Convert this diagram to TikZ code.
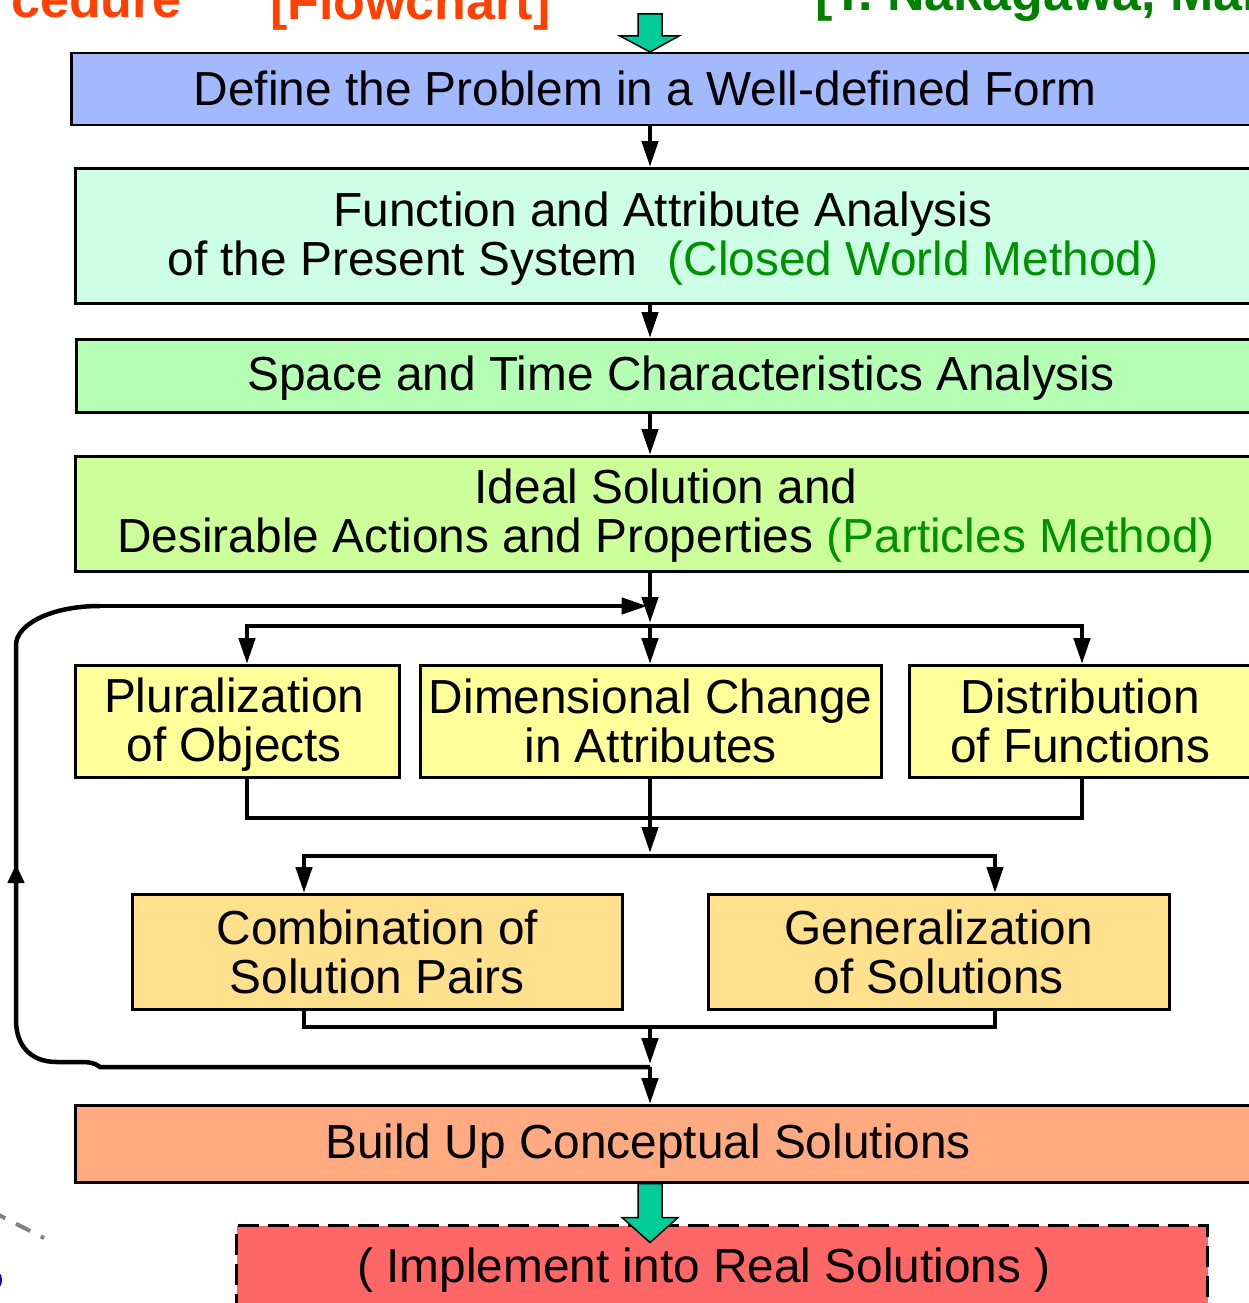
\documentclass[tikz,border=0pt]{standalone}
\usepackage{fontspec}
\setmainfont{Liberation Sans}
\usetikzlibrary{arrows.meta,calc}

\definecolor{probblue}{RGB}{163,185,255}
\definecolor{mintbox}{RGB}{204,255,230}
\definecolor{greenbox}{RGB}{180,255,180}
\definecolor{limebox}{RGB}{204,255,153}
\definecolor{yelbox}{RGB}{255,255,153}
\definecolor{ambbox}{RGB}{255,224,140}
\definecolor{salmonbox}{RGB}{255,170,128}
\definecolor{redbox}{RGB}{255,102,102}
\definecolor{bigarrow}{RGB}{0,204,153}
\definecolor{methodgreen}{RGB}{0,145,0}
\definecolor{titlered}{RGB}{255,64,0}
\definecolor{titlegreen}{RGB}{0,128,0}

\begin{document}
\begin{tikzpicture}[x=1pt,y=-1pt,
  box/.style={draw=black, line width=2.5pt, rectangle, inner sep=0pt, anchor=north west,
    font=\fontsize{47.8}{49}\selectfont, align=center},
  lbl/.style={font=\fontsize{47.8}{49}\selectfont, align=center, inner sep=0pt},
  title/.style={font=\fontsize{52}{52}\selectfont\bfseries, inner sep=0pt},
  conn/.style={line width=4.5pt},
  arr/.style={conn, -{Triangle[length=26pt,width=16pt]}},
  arrsmall/.style={conn, -{Triangle[length=19pt,width=16pt]}},
  bigarr/.style={fill=bigarrow, draw=black, line width=1.5pt, line join=miter},
]
\clip (0,0) rectangle (1249,1303);

% heading fragments
\node[title, anchor=base east, text=titlered] (tproc) at (182,18) {cedure};
\node[title, anchor=base west, text=titlered] (tflow) at (270,20) {[Flowchart]};
\node[title, anchor=base west, text=titlegreen] (tauth) at (815,11) {[T. Nakagawa, Mar};

% stray marks at lower left
\draw[gray, line width=4pt, dash pattern=on 16pt off 12pt] (-9,1211) -- (44,1238);
\fill[blue!75!black] (-3,1280) ellipse (5pt and 8pt);

% main boxes
\node[box, fill=probblue, minimum width=1200pt, minimum height=72pt] (define) at (70,52) {};
\node[box, fill=mintbox, minimum width=1200pt, minimum height=135pt] (funct) at (74,167) {};
\node[box, fill=greenbox, minimum width=1200pt, minimum height=73pt] (space) at (75,338) {};
\node[box, fill=limebox, minimum width=1200pt, minimum height=115pt] (ideal) at (74,455) {};

\node[lbl] (define-t) at (645,88) {Define the Problem in a Well-defined Form};
\node[lbl] (funct-t) at (663,238.5) {Function and Attribute Analysis\\
  of the Present System\hspace{30pt}{\color{methodgreen}(Closed World Method)}};
\node[lbl] (space-t) at (681,378.5) {Space and Time Characteristics Analysis};
\node[lbl] (ideal-t) at (666,515.5) {Ideal Solution and\\
  Desirable Actions and Properties {\color{methodgreen}(Particles Method)}};

% three operators
\node[box, fill=yelbox, minimum width=324pt, minimum height=112pt] (plur) at (74,664) {};
\node[lbl] (plur-t) at ($(plur.center)+(-3,3)$) {Pluralization\\of Objects};
\node[box, fill=yelbox, minimum width=461pt, minimum height=112pt] (dim) at (419,664) {Dimensional Change\\in Attributes};
\node[box, fill=yelbox, minimum width=342pt, minimum height=112pt] (distr) at (908,664) {Distribution\\of Functions};

% two further operators
\node[box, fill=ambbox, minimum width=490pt, minimum height=115pt] (comb) at (131,893) {Combination of\\Solution Pairs};
\node[box, fill=ambbox, minimum width=461pt, minimum height=115pt] (gen) at (707,893) {Generalization\\of Solutions};

% final stages
\node[box, fill=salmonbox, minimum width=1200pt, minimum height=77pt] (build) at (74,1104) {};
\node[lbl] (build-t) at (648,1146.5) {Build Up Conceptual Solutions};
\node[box, fill=redbox, dashed, dash pattern=on 21pt off 9pt, line width=3pt,
  minimum width=971pt, minimum height=120pt] (impl) at (235,1224) {};
\node[lbl] (impl-t) at (704,1270) {( Implement into Real Solutions )};

% routing coordinates
\coordinate (spine) at (650,0);
\coordinate (xa) at (247,0);
\coordinate (xc) at (1082,0);
\coordinate (xd) at (304,0);
\coordinate (xe) at (995,0);
\coordinate (busA) at (650,626);
\coordinate (busB) at (650,818);
\coordinate (busC) at (650,856);
\coordinate (busD) at (650,1027);
\coordinate (busE) at (650,1067);
\coordinate (loopB) at (100,1067);
\coordinate (loopL1) at (16,1020);
\coordinate (loopL2) at (16,645);
\coordinate (loopT) at (100,606);
\coordinate (loopArrow) at (16,864);

% entry and exit arrows
\coordinate (tipTop) at (define.north -| spine);
\draw[bigarr] ($(tipTop)+(-12,-38)$) -- ($(tipTop)+(12,-38)$) -- ($(tipTop)+(12,-16)$)
  -- ($(tipTop)+(29,-16)$) -- (tipTop) -- ($(tipTop)+(-30,-16)$) -- ($(tipTop)+(-12,-16)$) -- cycle;
\coordinate (tailBot) at (build.south -| spine);
\draw[bigarr] ($(tailBot)+(-12,0)$) -- ($(tailBot)+(12,0)$) -- ($(tailBot)+(12,34)$)
  -- ($(tailBot)+(28,34)$) -- ($(tailBot)+(0,59)$) -- ($(tailBot)+(-28,34)$) -- ($(tailBot)+(-12,34)$) -- cycle;

% spine
\draw[arr] (define.south -| spine) -- (funct.north -| spine);
\draw[arr] (funct.south -| spine) -- (space.north -| spine);
\draw[arr] (space.south -| spine) -- (ideal.north -| spine);
\draw[arr, shorten >=3pt] (ideal.south -| spine) -- (busA);

% distribution to the three operators
\draw[arr] (busA) -- (xa |- busA) -- (xa |- plur.north);
\draw[arr] (busA) -- (xc |- busA) -- (xc |- distr.north);
\draw[arr] (busA) -- (dim.north -| spine);

% collection and second distribution
\draw[conn] (xa |- plur.south) -- (xa |- busB) -- (xc |- busB) -- (xc |- distr.south);
\draw[arr, shorten >=3pt] (dim.south -| spine) -- (busC);
\draw[arr] (busC) -- (xd |- busC) -- (xd |- comb.north);
\draw[arr] (busC) -- (xe |- busC) -- (xe |- gen.north);

% collection into build up
\draw[conn] (xd |- comb.south) -- (xd |- busD) -- (xe |- busD) -- (xe |- gen.south);
\draw[arr, shorten >=3pt] (busD) -- (busE);
\draw[arr] (busE) -- (build.north -| spine);

% feedback loop
\draw[conn] (busE) -- (loopB) .. controls (95,1063) and (90,1062) .. (80,1062) -- (57,1062)
  .. controls (30,1062) and (16,1045) .. (loopL1) -- (loopL2)
  .. controls (16,625) and (50,606) .. (loopT);
\draw[arr, shorten >=2.5pt] (loopT) -- (loopT -| spine);
\draw[arrsmall] ($(loopArrow)+(0,30)$) -- (loopArrow);

\end{tikzpicture}
\end{document}
